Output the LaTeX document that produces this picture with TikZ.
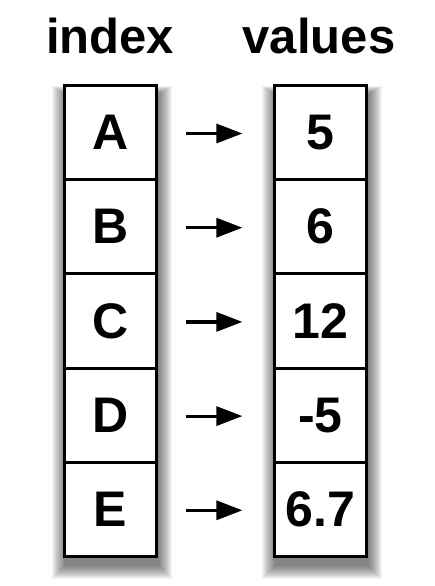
\documentclass[tikz,border=0pt]{standalone}
\usepackage{fontspec}
\setmainfont{Liberation Sans}
\usetikzlibrary{arrows.meta}
\begin{document}
\begin{tikzpicture}[x=1pt,y=-1pt,
  shadowlayer/.style={fill=black,fill opacity=0.042},
  colbg/.style={fill=white},
  cell/.style={draw=black,line width=3pt,minimum width=92pt,minimum height=94.2pt,inner sep=0pt,outer sep=0pt,
    font=\fontsize{50}{50}\selectfont\bfseries},
  hdr/.style={font=\fontsize{49}{49}\selectfont\bfseries,inner sep=0pt,anchor=base},
  arr/.style={line width=3.2pt,-{Triangle[length=26pt,width=19pt]},shorten <=30pt,shorten >=32pt}]
\useasboundingbox[fill=white] (0,0) rectangle (434,586);
% soft drop shadows of the two columns
\foreach \r in {1,...,14}{
  \fill[shadowlayer] (64.4+2-\r,85.4+9-\r*0.6) rectangle (156.4+2+\r,556.4+9+\r);
  \fill[shadowlayer] (274.4+2-\r,85.4+9-\r*0.6) rectangle (366.4+2+\r,556.4+9+\r);
}
\path[colbg] (64.4,85.4) rectangle (156.4,556.4);
\path[colbg] (274.4,85.4) rectangle (366.4,556.4);
% headers
\node[hdr] (hi) at (110,53) {index};
\node[hdr] (hv) at (319,53) {values};
% cells
\foreach \k/\lab/\val [count=\i from 0] in {1/A/5,2/B/6,3/C/12,4/D/-5,5/E/6.7}{
  \node[cell] (i\k) at (110.4,132.5+94.2*\i) {\lab};
  \node[cell] (v\k) at (320.4,132.5+94.2*\i) {\val};
  \draw[arr] ([yshift=-1pt]i\k.east) -- ([yshift=-1pt]v\k.west);
}
\end{tikzpicture}
\end{document}
